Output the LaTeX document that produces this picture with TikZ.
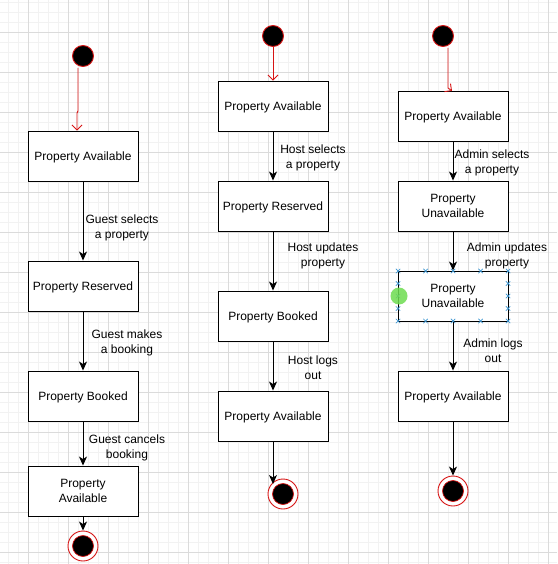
\documentclass[tikz,border=0pt]{standalone}
\usepackage{fontspec}
\setmainfont{Liberation Sans}
\usetikzlibrary{arrows.meta}
\definecolor{umlred}{RGB}{215,20,20}
\definecolor{selblue}{RGB}{60,150,210}
\definecolor{selgreen}{RGB}{110,220,80}
\tikzset{
  statebox/.style={draw, line width=0.9pt, fill=white, minimum width=110pt, minimum height=50pt, inner sep=0pt, align=center, font=\fontsize{12}{15}\selectfont, text depth=0.5pt},
  flow/.style={line width=0.9pt, -{Stealth[length=9pt,width=8pt,inset=2.5pt]}},
  initflow/.style={line width=0.9pt, draw=umlred, -{Straight Barb[length=5pt,width=10pt,line width=0.9pt]}},
  startdot/.style={circle, fill=black, draw=umlred, line width=0.9pt, minimum size=21pt, inner sep=0pt},
  enddot/.style={circle, fill=white, draw=umlred, line width=0.9pt, minimum size=30pt, inner sep=0pt,
    path picture={\filldraw[fill=black, draw=umlred, line width=0.7pt] (path picture bounding box.center) circle (10.5pt);}},
  lbl/.style={align=center, inner sep=0pt, font=\fontsize{12}{15}\selectfont},
  selmark/.style={draw=selblue, line width=0.7pt}
}
\begin{document}
\begin{tikzpicture}[x=1pt,y=-1pt]
\useasboundingbox (0,0) rectangle (557,564);
\fill[white] (0,0) rectangle (557,564);
% grid
\foreach \gx in {8,18,...,557} \draw[black!5, line width=0.5pt] (\gx,0) -- (\gx,564);
\foreach \gy in {2,12,...,564} \draw[black!5, line width=0.5pt] (0,\gy) -- (557,\gy);
\foreach \gx in {28,68,...,557} \draw[black!14, line width=0.6pt] (\gx,0) -- (\gx,564);
\foreach \gy in {32,72,...,564} \draw[black!14, line width=0.6pt] (0,\gy) -- (557,\gy);

% ---------- column 1 ----------
\node[startdot] (s1) at (83,56) {};
\node[statebox] (a1) at (83,156) {Property Available};
\node[statebox] (a2) at (83,286) {Property Reserved};
\node[statebox] (a3) at (83,396) {Property Booked};
\node[statebox] (a4) at (83,491) {Property\\Available};
\node[enddot] (e1) at (83,546) {};
\coordinate (c1) at (78,68);
\coordinate (c1b) at (78,111);
\coordinate (c1c) at (77,113);
\draw[initflow] (c1) -- (c1b) -- (c1c) -- (a1.north -| c1c);
\draw[flow] (a1) -- (a2);
\draw[flow] (a2) -- (a3);
\draw[flow] (a3) -- (a4);
\draw[flow] (a4) -- (e1);
\node[lbl] (l11) at (122,228) {Guest selects\\a property};
\node[lbl] (l12) at (127,343) {Guest makes\\a booking};
\node[lbl] (l13) at (127,448) {Guest cancels\\booking};

% ---------- column 2 ----------
\node[startdot] (s2) at (273,36) {};
\node[statebox] (b1) at (273,106) {Property Available};
\node[statebox] (b2) at (273,206) {Property Reserved};
\node[statebox] (b3) at (273,316) {Property Booked};
\node[statebox] (b4) at (273,416) {Property Available};
\node[enddot] (e2) at (283,494) {};
\draw[initflow] (s2) -- (b1);
\draw[flow] (b1) -- (b2);
\draw[flow] (b2) -- (b3);
\draw[flow] (b3) -- (b4);
\coordinate (e2t) at (273,484);
\draw[flow] (b4) -- (e2t);
\node[lbl] (l21) at (313,158) {Host selects\\a property};
\node[lbl] (l22) at (323,256) {Host updates\\property};
\node[lbl] (l23) at (313,368) {Host logs\\out};

% ---------- column 3 ----------
\node[startdot] (s3) at (443,36) {};
\node[statebox] (d1) at (453,116) {Property Available};
\node[statebox] (d2) at (453,206) {Property\\Unavailable};
\node[statebox] (d3) at (453,296) {Property\\Unavailable};
\node[statebox] (d4) at (453,396) {Property Available};
\node[enddot] (e3) at (453,491) {};
\coordinate (c3) at (448,48);
\coordinate (c3b) at (448,88);
\coordinate (c3c) at (452,91);
\draw[initflow] (c3) -- (c3b) -- (c3c);
\draw[flow] (d1) -- (d2);
\draw[flow] (d2) -- (d3);
\draw[flow] (d3) -- (d4);
\draw[flow] (d4) -- (e3);
\node[lbl] (l31) at (492,163) {Admin selects\\a property};
\node[lbl] (l32) at (507,256) {Admin updates\\property};
\node[lbl] (l33) at (493,351) {Admin logs\\out};

% selection handles on d3
\foreach \hx in {398,425.5,453,480.5,508} {
  \foreach \hy in {271,321} {
    \draw[selmark] (\hx-2.2,\hy-2.2) -- (\hx+2.2,\hy+2.2) (\hx-2.2,\hy+2.2) -- (\hx+2.2,\hy-2.2);
  }
}
\foreach \hx in {398,508} {
  \foreach \hy in {283.5,296,308.5} {
    \draw[selmark] (\hx-2.2,\hy-2.2) -- (\hx+2.2,\hy+2.2) (\hx-2.2,\hy+2.2) -- (\hx+2.2,\hy-2.2);
  }
}
\fill[selgreen, opacity=0.85] (399,296) circle (8.5);
\end{tikzpicture}
\end{document}
